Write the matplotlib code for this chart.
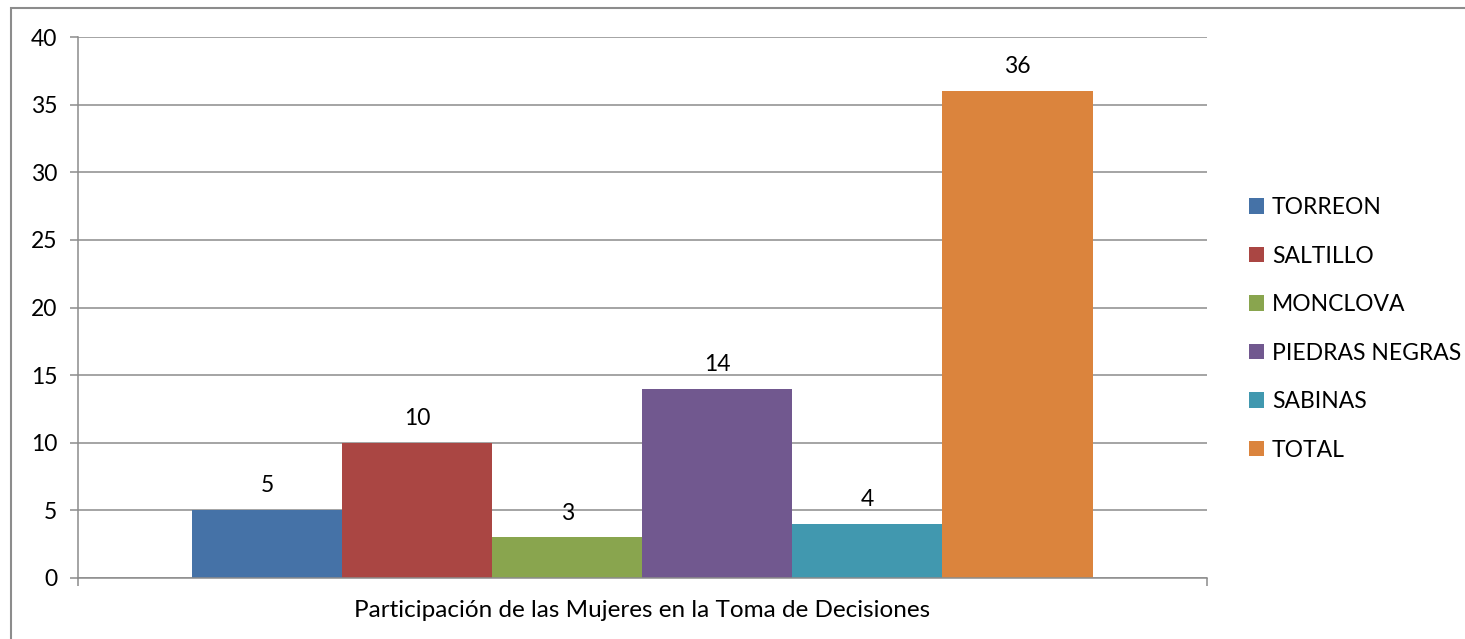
import numpy as np
import matplotlib
matplotlib.use("Agg")
import matplotlib.pyplot as plt
from matplotlib.patches import Rectangle

plt.rcParams['font.family'] = ['Lato', 'DejaVu Sans']

category = "Participación de las Mujeres en la Toma de Decisiones"
series = ["TORREON", "SALTILLO", "MONCLOVA", "PIEDRAS NEGRAS", "SABINAS", "TOTAL"]
values = [5, 10, 3, 14, 4, 36]
colors = ["#4572A7", "#AA4643", "#89A54E", "#71588F", "#4198AF", "#DB843D"]

W, H = 1465, 639
fig = plt.figure(figsize=(W / 100, H / 100), dpi=100)
ax = fig.add_axes([78 / W, (H - 578) / H, 1129 / W, 541 / H])

gray = "#8c8c8c"
fs = 16.5

n = len(series)
offsets = np.arange(n) - (n - 1) / 2
for off, v, c, name in zip(offsets, values, colors, series):
    ax.bar(off, v, width=1.0, color=c, label=name, zorder=2)
    ax.annotate(str(v), (off, v), xytext=(0, 10), textcoords="offset points",
                ha="center", va="bottom", fontsize=fs, color="black")

half = 1129 / 150 / 2
ax.set_xlim(-half, half)
ax.set_ylim(0, 40)
ax.set_yticks(range(0, 41, 5))
ax.yaxis.grid(True, color=gray, linewidth=1.1, zorder=0)
ax.set_axisbelow(True)

ax.set_xticks([-half, half])
ax.set_xticklabels(["", ""])
ax.set_xticks([0], [category], minor=True)
ax.tick_params(axis="x", which="minor", length=0, pad=16, labelsize=17.5)
ax.tick_params(axis="both", which="major", length=6, width=1.1, color=gray,
               labelsize=fs, direction="out")
ax.tick_params(axis="y", pad=9)

for s in ["top", "right"]:
    ax.spines[s].set_visible(False)
for s in ["left", "bottom"]:
    ax.spines[s].set_color(gray)
    ax.spines[s].set_linewidth(1.1)

fig.legend(loc="upper left", bbox_to_anchor=(1240 / W, (H - 188) / H),
           frameon=False, fontsize=fs, handlelength=0.65, handleheight=0.65,
           handletextpad=0.35, labelspacing=1.2, borderaxespad=0)

fig.patches.append(Rectangle((11 / W, -0.05), 1.1, (H - 8) / H + 0.05,
                             transform=fig.transFigure, fill=False,
                             edgecolor=gray, linewidth=1.5))

fig.savefig("out.png", dpi=100)
